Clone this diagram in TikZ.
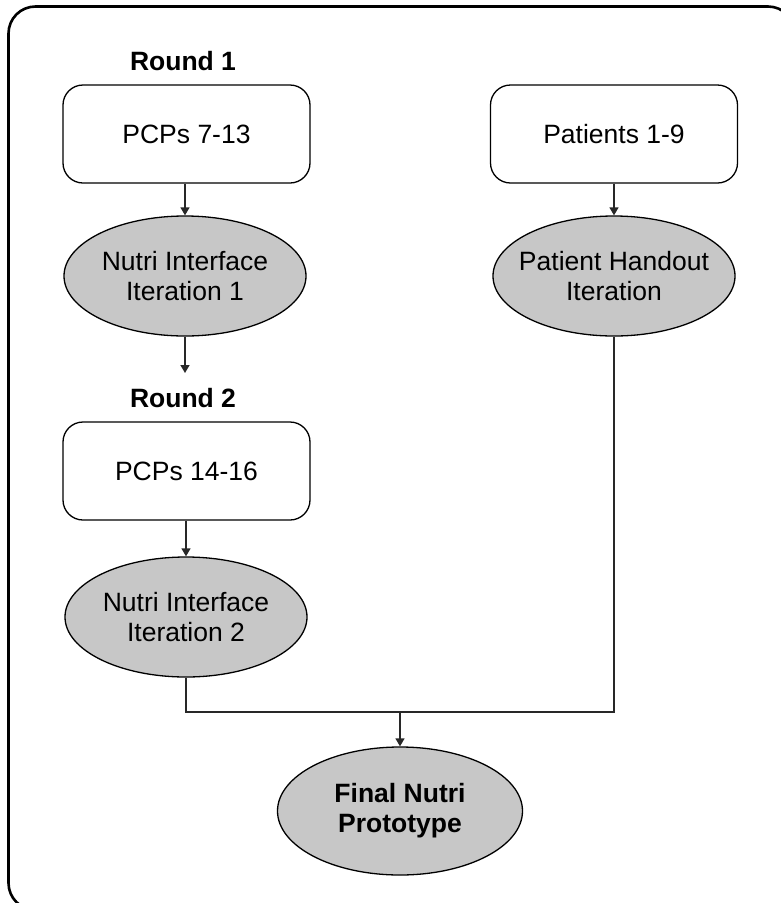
\documentclass[tikz,border=0pt]{standalone}
\usepackage{fontspec}
\setmainfont{Liberation Sans}
\usetikzlibrary{shapes.geometric,arrows.meta}
\definecolor{ovalgray}{RGB}{199,199,199}
\definecolor{linegray}{RGB}{40,40,40}
\newcommand\zw[1]{\makebox[0pt]{#1}}
\begin{document}
\begin{tikzpicture}[x=1pt,y=-1pt,
  txt/.style={font=\fontsize{26.5}{30}\selectfont,align=center},
  box/.style={txt,draw=black,line width=1.3pt,rounded corners=20pt,minimum width=247pt,minimum height=98pt},
  oval/.style={txt,ellipse,draw=black,line width=1.3pt,fill=ovalgray,minimum width=242pt,minimum height=120pt,inner sep=0pt},
  conn/.style={line width=1.4pt,draw=linegray},
  arr/.style={conn,-{Triangle[length=8pt,width=9pt]}},
  lab/.style={font=\bfseries\fontsize{26.5}{30}\selectfont,inner sep=0pt,anchor=base}]
\useasboundingbox (0,0) rectangle (780,903);
\draw[line width=2.6pt,rounded corners=27pt] (8.5,6.5) rectangle (795,910);
\node[lab] (r1) at (183,70) {Round 1};
\node[box] (b1) at (186.5,134) {PCPs 7-13};
\node[box] (b2) at (614,134) {Patients 1-9};
\node[oval] (e1) at (185,276) {\zw{Nutri Interface}\\\zw{Iteration 1}};
\node[oval] (e2) at (614,276) {\zw{Patient Handout}\\\zw{Iteration}};
\coordinate (c1) at (185,373);
\node[lab] (r2) at (183,407) {Round 2};
\node[box] (b3) at (186.5,471) {PCPs 14-16};
\node[oval] (e3) at (186,617) {\zw{Nutri Interface}\\\zw{Iteration 2}};
\node[oval,font=\bfseries\fontsize{26.5}{30}\selectfont,minimum width=245pt,minimum height=128pt] (e4) at (400,811) {\zw{Final Nutri}\\\zw{Prototype}};
\coordinate (j) at (400,712);
\draw[arr] (b1.south -| e1.north) -- (e1.north);
\draw[arr] (b2.south) -- (e2.north);
\draw[arr] (e1.south) -- (c1);
\draw[arr] (b3.south -| e3.north) -- (e3.north);
\draw[conn] (e3.south) |- (j) -| (e2.south);
\draw[arr] (j) -- (e4.north);
\end{tikzpicture}
\end{document}
